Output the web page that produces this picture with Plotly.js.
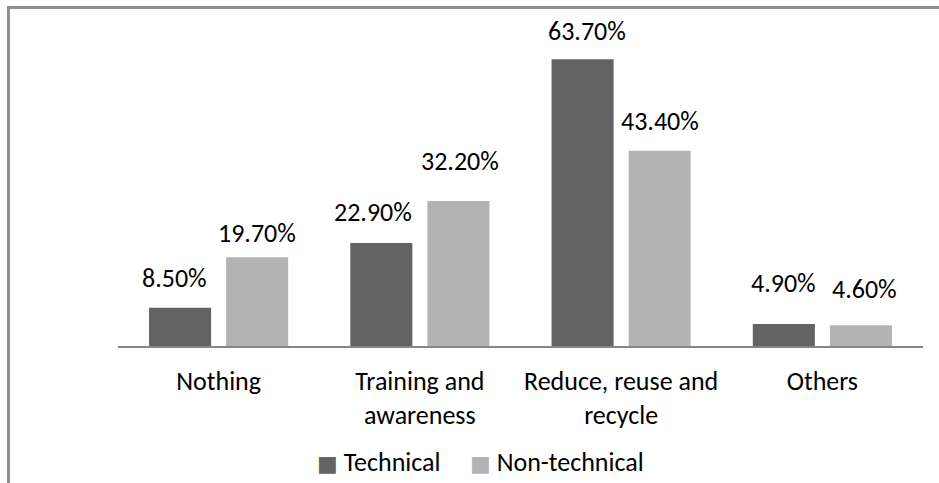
<!DOCTYPE html>
<html>
<head>
<meta charset="utf-8">
<script src="https://cdn.plot.ly/plotly-3.0.1.min.js"></script>
<style>
  html, body { margin: 0; padding: 0; background: #fff; }
  #chart { position: absolute; left: 0; top: 0; width: 939px; height: 483px; }
  #frame { position: absolute; left: 7px; top: 6px; width: 960px; height: 500px;
           border-top: 3px solid #8f8f8f; border-left: 3px solid #8f8f8f; pointer-events: none; }
</style>
</head>
<body>
<div id="chart"></div>
<div id="frame"></div>
<script>
const categories = ["Nothing", "Training and<br>awareness", "Reduce, reuse and<br>recycle", "Others"];
const seriesNames = ["Technical", "Non-technical"];
const technical = [8.5, 22.9, 63.7, 4.9];
const nonTechnical = [19.7, 32.2, 43.4, 4.6];
const colors = ["#636363", "#b3b3b3"];

// label placement nudges (pixels above bar top), layout only
const labelLift = [[30, 31, 28, 41], [24, 40, 30, 36]];
const labelSlide = [[-6, -8, 4, 0], [0, 2, 0, 4]];

const FONT = "Carlito, Calibri, 'Open Sans', sans-serif";
const FS = 26;

const traces = [technical, nonTechnical].map((vals, k) => ({
  type: "bar",
  name: seriesNames[k],
  x: categories,
  y: vals,
  marker: { color: colors[k] },
  hoverinfo: "skip",
  showlegend: false
}));

const offsets = [-0.1915, 0.1915];
const annotations = [];
[technical, nonTechnical].forEach((vals, k) => {
  vals.forEach((v, i) => {
    annotations.push({
      x: i + offsets[k], y: v, xref: "x", yref: "y",
      text: v.toFixed(2) + "%",
      showarrow: false, yanchor: "middle", xanchor: "center",
      yshift: labelLift[k][i], xshift: labelSlide[k][i],
      font: { family: FONT, size: FS, color: "#000" }
    });
  });
});

// legend entries
const legendX = [0.245, 0.435];
seriesNames.forEach((name, k) => {
  annotations.push({
    x: legendX[k], y: -0.368, xref: "paper", yref: "paper",
    xanchor: "left", yanchor: "middle", showarrow: false,
    text: '<span style="font-family:DejaVu Sans;font-size:22px;color:' + colors[k] + '">■</span> ' + name,
    font: { family: FONT, size: FS, color: "#000" }
  });
});

const layout = {
  width: 939, height: 483,
  margin: { l: 118, r: 16, t: 31, b: 137 },
  paper_bgcolor: "#fff", plot_bgcolor: "#fff",
  barmode: "group", bargap: 0.234, bargroupgap: 0.195,
  showlegend: false,
  xaxis: {
    type: "category",
    showline: true, linecolor: "#878787", linewidth: 2,
    ticks: "", showgrid: false, zeroline: false,
    ticklabelstandoff: 11,
    tickfont: { family: FONT, size: FS, color: "#000" }
  },
  yaxis: {
    range: [0, 70], visible: false, showgrid: false, zeroline: false
  },
  annotations: annotations,
  font: { family: FONT }
};

Plotly.newPlot("chart", traces, layout, { staticPlot: true, displayModeBar: false });
</script>
</body>
</html>
